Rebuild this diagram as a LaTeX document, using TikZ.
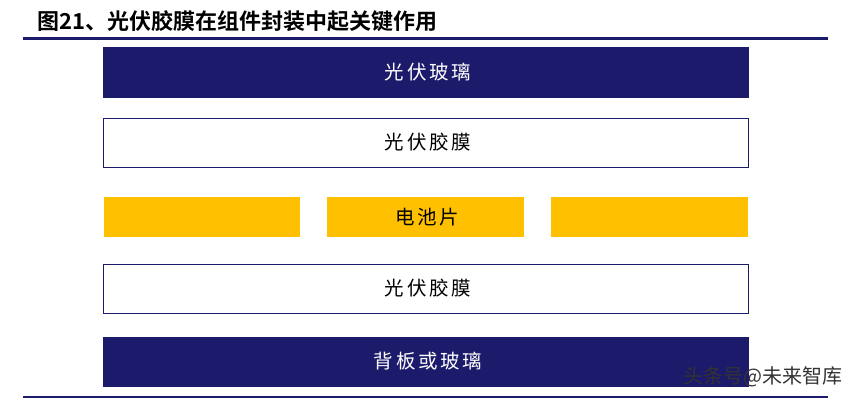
\documentclass[tikz,border=0pt]{standalone}
\usepackage{fontspec}
\newfontfamily\cjk[LetterSpace=14]{Noto Sans CJK SC}
\newfontfamily\cjkplain{Noto Sans CJK SC}
\newfontfamily\cjkb{Noto Sans CJK SC Bold}
\definecolor{navy}{RGB}{28,26,106}
\definecolor{cellyellow}{RGB}{255,192,0}
\begin{document}
\begin{tikzpicture}[x=1pt,y=-1pt,
  layer/.style={draw=navy,line width=0.8pt,fill=#1},
  cell/.style={fill=cellyellow},
  lbl/.style={font=\cjk\fontsize{19.5}{19.5}\selectfont,inner sep=0pt},
  rule/.style={draw=navy}]
\useasboundingbox (0,0) rectangle (855,400);
\node[anchor=base west,inner sep=0pt,font=\cjkb\fontsize{22}{22}\selectfont] (title) at (37,29) {图21、光伏胶膜在组件封装中起关键作用};
\draw[rule,line width=3pt] (23,38) coordinate (r1a) -- (828,38) coordinate (r1b);
\draw[rule,line width=2pt] (23,397) coordinate (r2a) -- (828,397) coordinate (r2b);
% layers
\path[layer=navy] (103,47) rectangle (748,97);
\node[lbl,text=white] (glass) at (428,72) {光伏玻璃};
\path[layer=white] (103,118) rectangle (748,167);
\node[lbl] (film1) at (428,142.5) {光伏胶膜};
\path[cell] (104,197) rectangle (300,237);
\path[cell] (327,197) rectangle (524,237);
\path[cell] (551,197) rectangle (748,237);
\node[lbl] (cellt) at (427,217) {电池片};
\path[layer=white] (103,264) rectangle (748,313);
\node[lbl] (film2) at (428,288.5) {光伏胶膜};
\path[layer=navy] (103,337) rectangle (748,386);
\node[lbl,text=white] (back) at (428,361.5) {背板或玻璃};
% watermark
\node[anchor=east,inner sep=0pt,font=\cjkplain\fontsize{20}{20}\selectfont,text=black!80] (wm) at (843,377) {头条号@未来智库};
\end{tikzpicture}
\end{document}
